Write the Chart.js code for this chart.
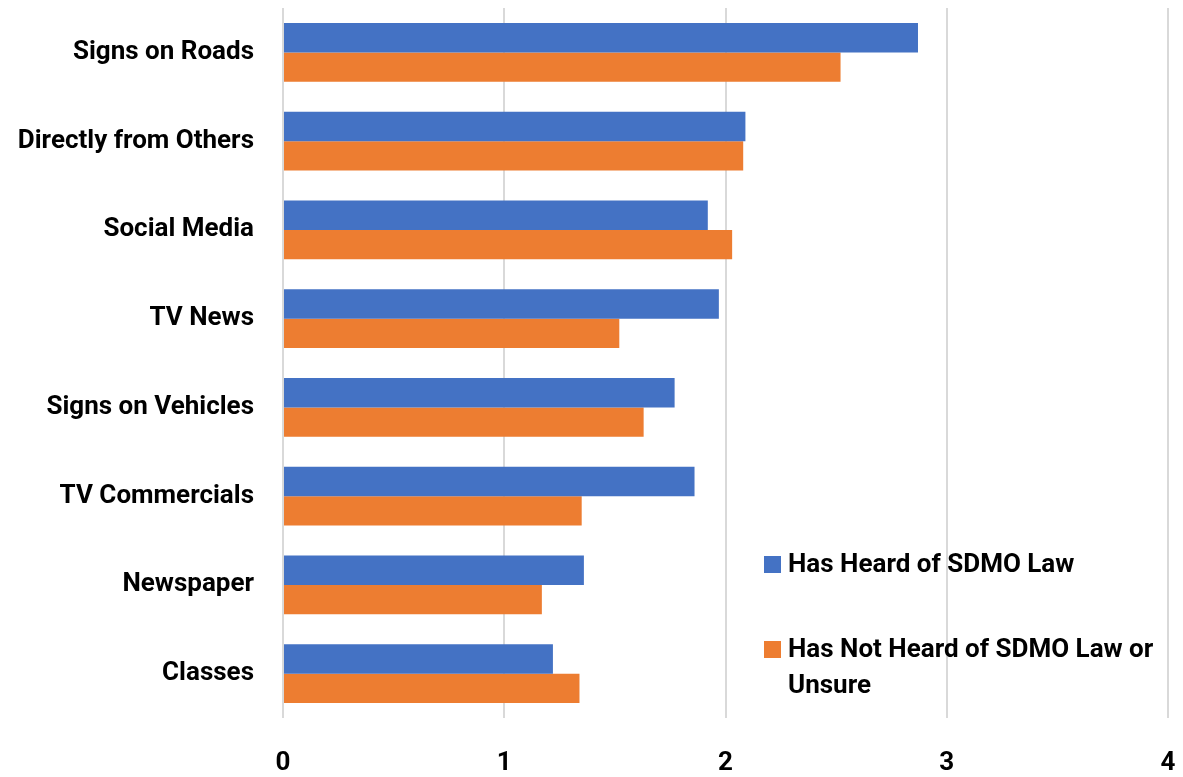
<!DOCTYPE html>
<html>
<head>
<meta charset="utf-8">
<script src="https://cdn.jsdelivr.net/npm/chart.js@4.4.1/dist/chart.umd.min.js"></script>
<style>
html,body{margin:0;padding:0;background:#fff;}
#wrap{width:1183px;height:777px;position:relative;}
</style>
</head>
<body>
<div id="wrap"><canvas id="c" width="1183" height="777"></canvas></div>
<script>
const categories = ["Signs on Roads","Directly from Others","Social Media","TV News","Signs on Vehicles","TV Commercials","Newspaper","Classes"];
const heardValues = [2.87, 2.09, 1.92, 1.97, 1.77, 1.86, 1.36, 1.22];
const notHeardValues = [2.52, 2.08, 2.03, 1.52, 1.63, 1.35, 1.17, 1.34];
const seriesNames = ["Has Heard of SDMO Law", "Has Not Heard of SDMO Law or Unsure"];
const xTicks = [0, 1, 2, 3, 4];

const FONT = "Roboto, 'Liberation Sans', sans-serif";
const BLUE = "#4472C4", ORANGE = "#ED7D31";

const legendPlugin = {
  id: 'customLegend',
  afterDraw(chart) {
    const ctx = chart.ctx;
    const items = [
      {text: ["Has Heard of SDMO Law"], color: chart.data.datasets[0].backgroundColor, y: 564},
      {text: ["Has Not Heard of SDMO Law or", "Unsure"], color: chart.data.datasets[1].backgroundColor, y: 649}
    ];
    ctx.save();
    ctx.font = "bold 26px " + FONT;
    ctx.textBaseline = 'middle';
    items.forEach(it => {
      ctx.fillStyle = it.color;
      ctx.fillRect(764, it.y - 8, 17, 17);
      ctx.fillStyle = '#000';
      it.text.forEach((t, i) => ctx.fillText(t, 788, it.y + 1 + i * 36));
    });
    ctx.restore();
  }
};

function zeroPad(scale) {
  scale.paddingTop = 0; scale.paddingBottom = 0;
  scale.paddingLeft = 0; scale.paddingRight = 0;
}

new Chart(document.getElementById('c'), {
  type: 'bar',
  data: {
    labels: categories,
    datasets: [
      {label: seriesNames[0], data: heardValues, backgroundColor: BLUE, categoryPercentage: 0.66, barPercentage: 1.0},
      {label: seriesNames[1], data: notHeardValues, backgroundColor: ORANGE, categoryPercentage: 0.66, barPercentage: 1.0}
    ]
  },
  options: {
    indexAxis: 'y',
    responsive: false,
    animation: false,
    layout: {padding: {top: 8, right: 15, left: 0, bottom: 0}},
    plugins: {legend: {display: false}, tooltip: {enabled: false}},
    scales: {
      x: {
        min: 0, max: 4,
        afterBuildTicks(scale) { scale.ticks = xTicks.map(v => ({value: v})); },
        afterFit(scale) { scale.height = 59; zeroPad(scale); },
        grid: {color: '#d9d9d9', lineWidth: 2, drawTicks: false},
        border: {display: false},
        ticks: {padding: 30, color: '#000', font: {family: FONT, size: 26, weight: 'bold'}}
      },
      y: {
        afterFit(scale) { scale.width = 283; zeroPad(scale); },
        grid: {display: false, drawTicks: false},
        border: {display: false},
        ticks: {padding: 29, color: '#000', font: {family: FONT, size: 26, weight: 'bold'}}
      }
    }
  },
  plugins: [legendPlugin]
});
</script>
</body>
</html>
